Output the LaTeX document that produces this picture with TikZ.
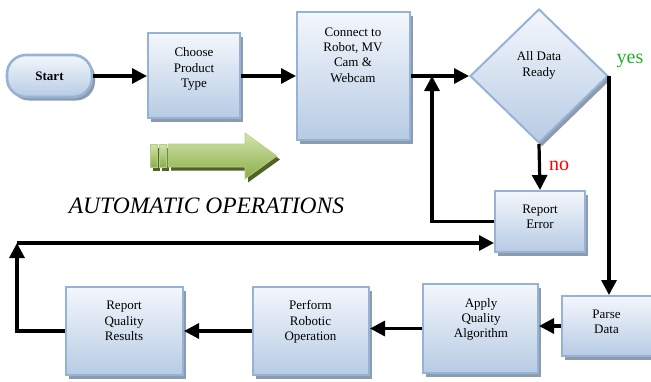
\documentclass[tikz,border=0pt]{standalone}
\usepackage{fontspec}
\setmainfont{Liberation Serif}
\usetikzlibrary{arrows.meta,shapes.geometric,shadows}
\definecolor{boxtop}{HTML}{F4F7FC}
\definecolor{boxbot}{HTML}{B7CBE4}
\definecolor{boxline}{HTML}{95B3D7}
\definecolor{shadowc}{HTML}{8E9BAD}
\definecolor{gtop}{HTML}{D2E3AE}
\definecolor{gbot}{HTML}{8CAE48}
\definecolor{gline}{HTML}{B5CF82}
\definecolor{gshadow}{HTML}{4F6228}
\definecolor{yesgreen}{HTML}{22B022}
\begin{document}
\begin{tikzpicture}[x=1pt,y=-1pt,
  boxbase/.style={draw=boxline,line width=2pt,top color=boxtop,bottom color=boxbot,
    drop shadow={shadow xshift=3pt,shadow yshift=-3.5pt,fill=shadowc,opacity=1},inner sep=0pt},
  flowbox/.style={boxbase,rectangle},
  decision/.style={boxbase,diamond},
  startbox/.style={boxbase,rectangle,rounded corners=19pt,line width=2.6pt,
    font=\fontsize{13}{15}\selectfont\bfseries},
  boxtext/.style={font=\fontsize{13}{15.3}\selectfont,align=center,inner sep=0pt},
  flow/.style={line width=3.2pt,-{Triangle[length=15pt,width=15pt]}},
  greenbody/.style={top color=gtop,bottom color=gbot,draw=gline,line width=0.6pt},
]
\useasboundingbox (0,0) rectangle (651,381);

% boxes
\node[startbox,minimum width=85pt,minimum height=42pt] (start) at (49.5,76) {Start};
\node[flowbox,minimum width=92pt,minimum height=85pt] (choose) at (194,75.5) {};
\node[boxtext] (chooset) at (194,69) {Choose\\Product\\Type};
\node[flowbox,minimum width=113pt,minimum height=128pt] (conn) at (353.5,76) {};
\node[boxtext] (connt) at (353,55) {Connect to\\Robot, MV\\Cam \&\\Webcam};
\node[decision,minimum width=138pt,minimum height=134pt] (dia) at (539,76) {};
\node[boxtext] (diat) at (539,65.5) {All Data\\Ready};
\node[flowbox,minimum width=90pt,minimum height=61pt] (rerr) at (540,221.5) {};
\node[boxtext] (rerrt) at (540,217) {Report\\Error};
\node[flowbox,minimum width=96pt,minimum height=60pt] (parse) at (610,326) {};
\node[boxtext] (parset) at (606.5,322) {Parse\\Data};
\node[flowbox,minimum width=115pt,minimum height=89pt] (apply) at (480.5,328.5) {};
\node[boxtext] (applyt) at (481,319.5) {Apply\\Quality\\Algorithm};
\node[flowbox,minimum width=116pt,minimum height=88pt] (perf) at (311,331) {};
\node[boxtext] (perft) at (310.5,322) {Perform\\Robotic\\Operation};
\node[flowbox,minimum width=117pt,minimum height=88pt] (rq) at (124.5,331) {};
\node[boxtext] (rqt) at (124,321) {Report\\Quality\\Results};

% labels
\node[text=yesgreen,font=\fontsize{20}{20}\selectfont,anchor=base,inner sep=0pt] (yes) at (630,63) {yes};
\node[text=red,font=\fontsize{20}{20}\selectfont,anchor=base,inner sep=0pt] (no) at (559,170) {no};
\node[font=\fontsize{23.5}{23.5}\selectfont\itshape,anchor=base,inner sep=0pt] (auto) at (206.5,213) {AUTOMATIC OPERATIONS};

% green block arrow
\begin{scope}[shift={(3,3.5)}]
  \fill[gshadow] (150,144) rectangle (157,167);
  \fill[gshadow] (159,144) rectangle (166,167);
  \fill[gshadow] (168,144) -- (245,144) -- (245,133) -- (277,156) -- (245,179) -- (245,167) -- (168,167) -- cycle;
\end{scope}
\path[greenbody] (150,144) rectangle (157,167);
\path[greenbody] (159,144) rectangle (166,167);
\path[greenbody] (168,144) -- (245,144) -- (245,133) -- (277,156) -- (245,179) -- (245,167) -- (168,167) -- cycle;

% connectors
\coordinate (j1) at (432,76);
\coordinate (c1) at (17,243);
\draw[flow] (start.east) -- (start.east -| choose.west);
\draw[flow] (choose.east |- start.east) -- (conn.west |- start.east);
\draw[flow] (conn.east |- dia.west) -- (dia.west);
\draw[flow] (dia.south) -- (rerr.north);
\draw[flow] (rerr.west) -| (j1);
\draw[flow] (dia.east) -- (dia.east |- parse.north);
\draw[flow] (parse.west) -- (parse.west -| apply.east);
\draw[flow] (apply.west) -- (apply.west -| perf.east);
\draw[flow] (perf.west) -- (perf.west -| rq.east);
\draw[flow] (rq.west) -| (c1);
\draw[flow] (c1) -- (c1 -| rerr.west);
\end{tikzpicture}
\end{document}
